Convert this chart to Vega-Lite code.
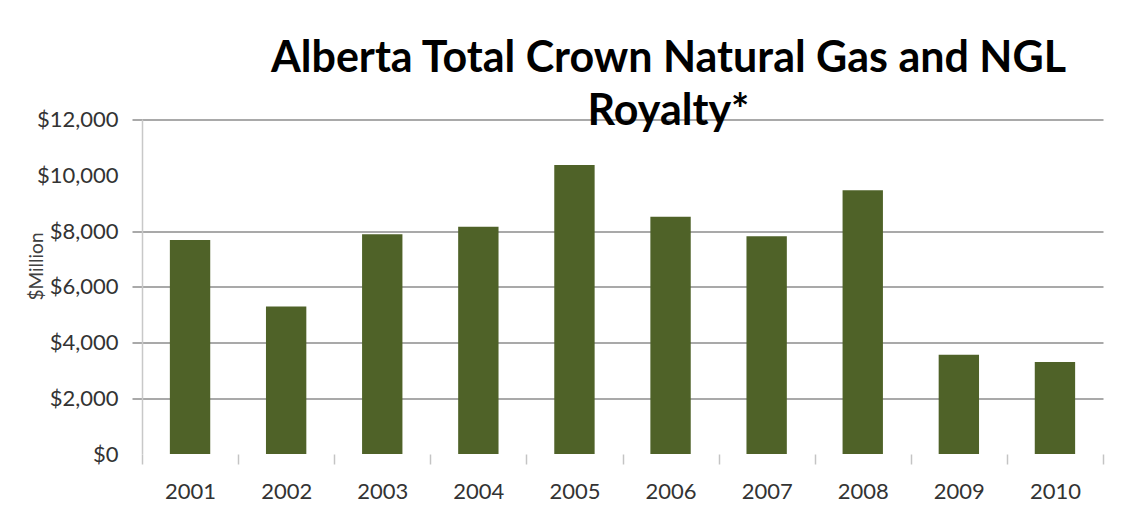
{
  "$schema": "https://vega.github.io/schema/vega-lite/v6.json",
  "width": 961,
  "height": 334.5,
  "autosize": {"type": "none"},
  "padding": {"left": 142, "top": 119.5, "right": 38, "bottom": 75},
  "background": "white",
  "title": {
    "text": ["Alberta Total Crown Natural Gas and NGL", "Royalty*"],
    "font": "Lato",
    "fontSize": 43,
    "fontWeight": "bold",
    "color": "#000000",
    "anchor": "middle",
    "dx": 46,
    "offset": -25,
    "lineHeight": 53
  },
  "data": {
    "values": [
      {"year": "2001", "royalty": 7680},
      {"year": "2002", "royalty": 5290},
      {"year": "2003", "royalty": 7880},
      {"year": "2004", "royalty": 8155},
      {"year": "2005", "royalty": 10370},
      {"year": "2006", "royalty": 8510},
      {"year": "2007", "royalty": 7810},
      {"year": "2008", "royalty": 9460},
      {"year": "2009", "royalty": 3560},
      {"year": "2010", "royalty": 3300}
    ]
  },
  "mark": {"type": "bar", "color": "#4F6228", "width": {"band": 0.42}},
  "encoding": {
    "x": {
      "field": "year",
      "type": "nominal",
      "sort": null,
      "scale": {"paddingInner": 0, "paddingOuter": 0},
      "axis": {
        "title": null,
        "labelAngle": 0,
        "labelFont": "Lato",
        "labelFontSize": 22,
        "labelColor": "#333333",
        "labelPadding": 17,
        "domain": false,
        "ticks": true,
        "tickBand": "extent",
        "tickColor": "#c4c4c4",
        "tickWidth": 1.5,
        "tickSize": 10,
        "grid": false
      }
    },
    "y": {
      "field": "royalty",
      "type": "quantitative",
      "scale": {"domain": [0, 12000], "nice": false},
      "axis": {
        "title": "$Million",
        "titleFont": "Lato",
        "titleFontSize": 19,
        "titleFontWeight": "normal",
        "titleColor": "#404040",
        "titleX": -106,
        "titleY": 146.5,
        "titleAngle": -90,
        "titleBaseline": "middle",
        "titleAlign": "center",
        "values": [0, 2000, 4000, 6000, 8000, 10000, 12000],
        "format": "$,d",
        "labelFont": "Lato",
        "labelFontSize": 22,
        "labelColor": "#333333",
        "labelPadding": 14,
        "domain": true,
        "domainColor": "#c8c8c8",
        "domainWidth": 1.5,
        "tickSize": 10,
        "tickColor": "#8c8c8c",
        "tickWidth": 1.5,
        "tickOpacity": {"condition": {"test": "datum.value == 0 || datum.value == 10000", "value": 0}, "value": 1},
        "grid": true,
        "gridColor": "#8c8c8c",
        "gridWidth": 1.5,
        "gridOpacity": {"condition": {"test": "datum.value == 0 || datum.value == 10000", "value": 0}, "value": 1}
      }
    }
  },
  "config": {"view": {"stroke": null}}
}
